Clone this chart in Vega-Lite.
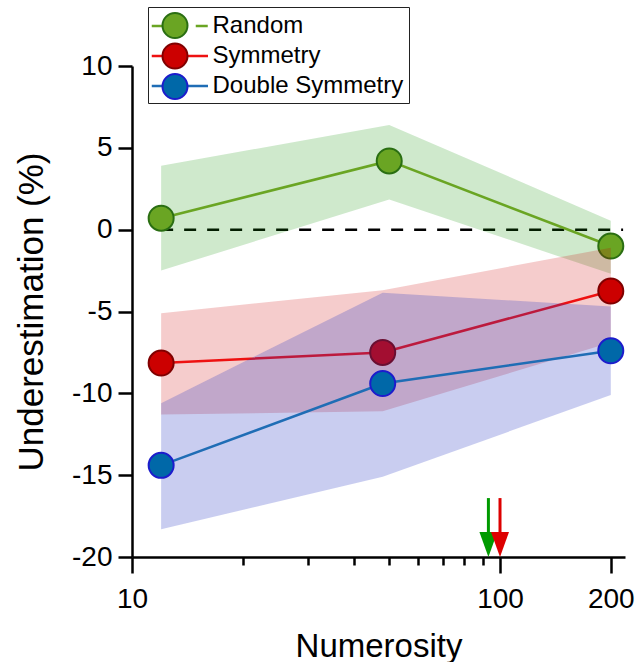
{
  "$schema": "https://vega.github.io/schema/vega-lite/v6.json",
  "width": 493,
  "height": 491,
  "autosize": {"type": "none"},
  "padding": {"left": 132, "top": 66, "right": 10, "bottom": 105},
  "config": {
    "view": {"stroke": null},
    "font": "Liberation Sans",
    "axis": {
      "domainColor": "black", "tickColor": "black", "labelColor": "black", "titleColor": "black",
      "labelFont": "Liberation Sans", "titleFont": "Liberation Sans", "grid": false,
      "domainWidth": 2.5, "tickWidth": 2.5, "titleFontWeight": "normal",
      "labelFontSize": 28, "titleFontSize": 33
    }
  },
  "datasets": {
    "series": [
      {"series": "Random", "n": 12, "y": 0.7, "lo": -2.5, "hi": 3.9},
      {"series": "Random", "n": 50, "y": 4.2, "lo": 1.85, "hi": 6.4},
      {"series": "Random", "n": 200, "y": -1.0, "lo": -2.7, "hi": 0.55},
      {"series": "Symmetry", "n": 12, "y": -8.15, "lo": -11.3, "hi": -5.1},
      {"series": "Symmetry", "n": 48, "y": -7.5, "lo": -11.1, "hi": -3.7},
      {"series": "Symmetry", "n": 200, "y": -3.75, "lo": -6.9, "hi": -1.1},
      {"series": "Double Symmetry", "n": 12, "y": -14.4, "lo": -18.3, "hi": -10.6},
      {"series": "Double Symmetry", "n": 48, "y": -9.4, "lo": -15.1, "hi": -3.85},
      {"series": "Double Symmetry", "n": 200, "y": -7.4, "lo": -10.1, "hi": -4.7}
    ],
    "arrows": [
      {"group": "Random", "n": 93, "top": -16.4, "bottom": -18.6, "tip": -20},
      {"group": "Symmetry", "n": 100, "top": -16.4, "bottom": -18.6, "tip": -20}
    ],
    "zero": [{"from": 12, "to": 216, "y": 0}]
  },
  "layer": [
    {
      "data": {"name": "zero"},
      "mark": {"type": "rule", "color": "black", "strokeWidth": 2.5, "strokeDash": [12, 11]},
      "encoding": {
        "x": {
          "field": "from", "type": "quantitative",
          "scale": {"type": "log", "domain": [10, 218.6], "nice": false},
          "axis": {
            "title": "Numerosity",
            "values": [10, 20, 30, 40, 50, 60, 70, 80, 90, 100, 200],
            "labelExpr": "indexof([10,100,200], datum.value) >= 0 ? toString(datum.value) : ''",
            "tickSize": {"condition": {"test": "indexof([10,100,200], datum.value) >= 0", "value": 16}, "value": 8},
            "labelPadding": 12,
            "labelFlush": false,
            "labelOverlap": false,
            "titlePadding": 17
          }
        },
        "x2": {"field": "to"},
        "y": {
          "field": "y", "type": "quantitative",
          "scale": {"domain": [-20, 10], "nice": false, "zero": false},
          "axis": {
            "title": "Underestimation (%)",
            "values": [-20, -15, -10, -5, 0, 5, 10],
            "labelExpr": "toString(datum.value)",
            "tickSize": 14,
            "labelPadding": 6,
            "titleFontSize": 35,
            "titlePadding": 22
          }
        }
      }
    },
    {
      "data": {"name": "series"},
      "transform": [{"filter": "datum.series === 'Random'"}],
      "mark": {"type": "area", "color": "#0f9100", "opacity": 0.2},
      "encoding": {
        "x": {"field": "n", "type": "quantitative"},
        "y": {"field": "hi", "type": "quantitative"},
        "y2": {"field": "lo"}
      }
    },
    {
      "data": {"name": "series"},
      "transform": [{"filter": "datum.series === 'Random'"}],
      "mark": {"type": "line", "strokeWidth": 2.5},
      "encoding": {
        "x": {"field": "n", "type": "quantitative"},
        "y": {"field": "y", "type": "quantitative"},
        "color": {
          "field": "series", "type": "nominal",
          "scale": {"domain": ["Random", "Symmetry", "Double Symmetry"], "range": ["#6aa523", "#ee1111", "#1f6db5"]},
          "legend": {
            "title": null, "orient": "none", "legendX": 16, "legendY": -59,
            "padding": 5, "symbolType": "M-1.9,0L2.6,0", "symbolSize": 625,
            "symbolStrokeWidth": 2.5, "symbolOffset": 8.5, "labelOffset": 23,
            "labelFontSize": 24, "labelFont": "Liberation Sans", "labelColor": "black",
            "labelLimit": 400,
            "rowPadding": 4, "strokeColor": "#222222", "fillColor": "white",
            "encoding": {"symbols": {"strokeDash": {"value": {"expr": "datum.value === 'Random' ? [12,10] : [1,0]"}}}}
          }
        }
      }
    },
    {
      "data": {"name": "series"},
      "transform": [{"filter": "datum.series === 'Random'"}],
      "mark": {"type": "point", "filled": true, "opacity": 1, "size": 625, "strokeWidth": 2},
      "encoding": {
        "x": {"field": "n", "type": "quantitative"},
        "y": {"field": "y", "type": "quantitative"},
        "fill": {
          "field": "series", "type": "nominal", "sort": null,
          "scale": {"range": ["#6aa523", "#cc0000", "#0068a8"]},
          "legend": {
            "title": null, "orient": "none", "legendX": 16, "legendY": -59,
            "padding": 5, "symbolType": "circle", "symbolSize": 625,
            "symbolStrokeWidth": 2, "symbolOffset": 8.5, "labelOffset": 23,
            "labelFontSize": 24, "labelExpr": "''",
            "rowPadding": -2.5, "strokeColor": null, "fillColor": null
          }
        },
        "stroke": {
          "field": "series", "type": "nominal", "sort": null,
          "scale": {"range": ["#2a6e12", "#800000", "#1c1ccc"]},
          "legend": {
            "title": null, "orient": "none", "legendX": 16, "legendY": -59,
            "padding": 5, "symbolType": "circle", "symbolSize": 625,
            "symbolStrokeWidth": 2, "symbolOffset": 8.5, "labelOffset": 23,
            "labelFontSize": 24, "labelExpr": "''",
            "rowPadding": -2.5, "strokeColor": null, "fillColor": null
          }
        }
      }
    },
    {
      "data": {"name": "series"},
      "transform": [{"filter": "datum.series === 'Symmetry'"}],
      "mark": {"type": "area", "color": "#cd0000", "opacity": 0.2},
      "encoding": {
        "x": {"field": "n", "type": "quantitative"},
        "y": {"field": "hi", "type": "quantitative"},
        "y2": {"field": "lo"}
      }
    },
    {
      "data": {"name": "series"},
      "transform": [{"filter": "datum.series === 'Symmetry'"}],
      "mark": {"type": "line", "strokeWidth": 2.5},
      "encoding": {
        "x": {"field": "n", "type": "quantitative"},
        "y": {"field": "y", "type": "quantitative"},
        "color": {
          "field": "series", "type": "nominal",
          "scale": {"domain": ["Random", "Symmetry", "Double Symmetry"], "range": ["#6aa523", "#ee1111", "#1f6db5"]}
        }
      }
    },
    {
      "data": {"name": "series"},
      "transform": [{"filter": "datum.series === 'Symmetry'"}],
      "mark": {"type": "point", "filled": true, "opacity": 1, "size": 625, "strokeWidth": 2},
      "encoding": {
        "x": {"field": "n", "type": "quantitative"},
        "y": {"field": "y", "type": "quantitative"},
        "fill": {"field": "series", "type": "nominal", "sort": null},
        "stroke": {"field": "series", "type": "nominal", "sort": null}
      }
    },
    {
      "data": {"name": "series"},
      "transform": [{"filter": "datum.series === 'Double Symmetry'"}],
      "mark": {"type": "area", "color": "#2737c3", "opacity": 0.25},
      "encoding": {
        "x": {"field": "n", "type": "quantitative"},
        "y": {"field": "hi", "type": "quantitative"},
        "y2": {"field": "lo"}
      }
    },
    {
      "data": {"name": "series"},
      "transform": [{"filter": "datum.series === 'Double Symmetry'"}],
      "mark": {"type": "line", "strokeWidth": 2.5},
      "encoding": {
        "x": {"field": "n", "type": "quantitative"},
        "y": {"field": "y", "type": "quantitative"},
        "color": {
          "field": "series", "type": "nominal",
          "scale": {"domain": ["Random", "Symmetry", "Double Symmetry"], "range": ["#6aa523", "#ee1111", "#1f6db5"]}
        }
      }
    },
    {
      "data": {"name": "series"},
      "transform": [{"filter": "datum.series === 'Double Symmetry'"}],
      "mark": {"type": "point", "filled": true, "opacity": 1, "size": 625, "strokeWidth": 2},
      "encoding": {
        "x": {"field": "n", "type": "quantitative"},
        "y": {"field": "y", "type": "quantitative"},
        "fill": {"field": "series", "type": "nominal", "sort": null},
        "stroke": {"field": "series", "type": "nominal", "sort": null}
      }
    },
    {
      "data": {"name": "arrows"},
      "transform": [{"filter": "datum.group === 'Random'"}],
      "mark": {"type": "rule", "color": "#009a00", "strokeWidth": 3},
      "encoding": {
        "x": {"field": "n", "type": "quantitative"},
        "y": {"field": "top", "type": "quantitative"},
        "y2": {"field": "bottom"}
      }
    },
    {
      "data": {"name": "arrows"},
      "transform": [{"filter": "datum.group === 'Random'"}],
      "mark": {"type": "point", "shape": "M-0.72,-2L0.72,-2L0,0Z", "size": 625, "filled": true, "opacity": 1, "color": "#009a00", "strokeWidth": 0},
      "encoding": {
        "x": {"field": "n", "type": "quantitative"},
        "y": {"field": "tip", "type": "quantitative"}
      }
    },
    {
      "data": {"name": "arrows"},
      "transform": [{"filter": "datum.group === 'Symmetry'"}],
      "mark": {"type": "rule", "color": "#dd0000", "strokeWidth": 3},
      "encoding": {
        "x": {"field": "n", "type": "quantitative"},
        "y": {"field": "top", "type": "quantitative"},
        "y2": {"field": "bottom"}
      }
    },
    {
      "data": {"name": "arrows"},
      "transform": [{"filter": "datum.group === 'Symmetry'"}],
      "mark": {"type": "point", "shape": "M-0.72,-2L0.72,-2L0,0Z", "size": 625, "filled": true, "opacity": 1, "color": "#dd0000", "strokeWidth": 0},
      "encoding": {
        "x": {"field": "n", "type": "quantitative"},
        "y": {"field": "tip", "type": "quantitative"}
      }
    }
  ]
}
